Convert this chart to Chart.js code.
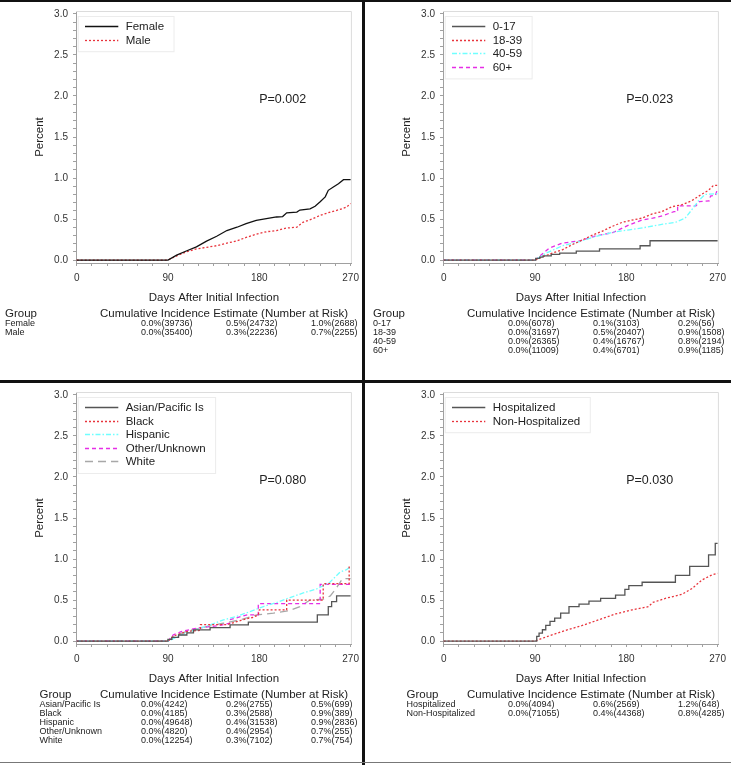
<!DOCTYPE html>
<html>
<head>
<meta charset="utf-8">
<script src="https://cdn.jsdelivr.net/npm/chart.js@4.4.1/dist/chart.umd.min.js"></script>
<style>
body { margin: 0; background: #fff; font-family: "Liberation Sans", Arial, sans-serif; color: #222; }
#page { position: relative; width: 731px; height: 765px; overflow: hidden; }
.panel { position: absolute; width: 365px; height: 380px; }
.panel canvas { position: absolute; left: 0; top: 0; }
.t { position: absolute; white-space: nowrap; }
.hd { font-size: 11.5px; line-height: 14px; height: 14px; }
.rw { font-size: 9px; line-height: 10px; height: 10px; }
.rule { position: absolute; }
</style>
</head>
<body>
<div id="page"></div>
<script>
var FONT = '"Liberation Sans", Arial, sans-serif';

// axis ticks
var xTicks = [0, 15, 30, 45, 60, 75, 90, 105, 120, 135, 150, 165, 180, 195, 210, 225, 240, 255, 270];
var xLabels = [0, 90, 180, 270];
var yTicks = [0, 0.1, 0.2, 0.3, 0.4, 0.5, 0.6, 0.7, 0.8, 0.9, 1.0, 1.1, 1.2, 1.3, 1.4, 1.5,
              1.6, 1.7, 1.8, 1.9, 2.0, 2.1, 2.2, 2.3, 2.4, 2.5, 2.6, 2.7, 2.8, 2.9, 3.0];
var yLabels = [0, 0.5, 1.0, 1.5, 2.0, 2.5, 3.0];

// curves, [day, percent]
var female = [[0,0],[90,0],[98.5,0.06],[108,0.11],[118,0.16],[128,0.23],[138,0.29],[148,0.36],[158,0.40],
  [167,0.445],[177,0.485],[187,0.505],[197,0.525],[203,0.53],[207,0.575],[217,0.585],[220,0.61],[230,0.625],
  [235,0.655],[240,0.71],[245,0.77],[248,0.85],[253,0.89],[258,0.93],[263,0.98],[270,0.98]];
var male = [[0,0],[90,0],[98.5,0.05],[108,0.10],[118,0.135],[128,0.155],[138,0.175],[148,0.205],[158,0.235],
  [167,0.275],[177,0.315],[187,0.345],[197,0.36],[203,0.38],[207,0.39],[217,0.40],[223,0.46],[233,0.505],
  [240,0.545],[250,0.585],[259,0.615],[266,0.645],[270,0.69]];

var age0017 = [[0,0],[90.7,0.02],[94.6,0.036],[97.9,0.052],[106,0.068],[114.3,0.085],[130.7,0.109],
  [153.6,0.137],[193.6,0.174],[203.4,0.235],[270,0.235]];
var age1839 = [[0,0],[90,0],[97,0.036],[107,0.085],[117,0.125],[127,0.19],[136,0.24],[146,0.30],[156,0.35],
  [166,0.41],[176,0.46],[185,0.485],[195,0.51],[205,0.56],[215,0.59],[225,0.65],[235,0.675],[244,0.72],
  [254,0.80],[261,0.85],[266,0.91],[270,0.91]];
var age4059 = [[0,0],[90,0],[101,0.085],[117,0.174],[134,0.226],[150,0.287],[166.7,0.34],[183,0.368],
  [199.5,0.40],[216,0.437],[229,0.462],[238,0.51],[244.4,0.61],[251,0.72],[257.5,0.80],[270,0.81]];
var age60 = [[0,0],[90,0],[104,0.146],[117,0.207],[134,0.234],[150,0.295],[166.7,0.335],[183,0.429],
  [196,0.49],[206,0.51],[216,0.542],[227,0.59],[230.6,0.59],[230.6,0.66],[248.6,0.66],[252,0.712],
  [261.7,0.72],[263,0.78],[268,0.79],[270,0.875]];

var asian = [[0,0],[89.9,0.02],[93.8,0.045],[100.4,0.074],[108.6,0.10],[115.1,0.135],[131.5,0.164],
  [151.2,0.197],[169.2,0.23],[237.2,0.32],[248,0.42],[251.3,0.48],[256.2,0.55],[270,0.55]];
var black = [[0,0],[90,0],[95,0.06],[105,0.10],[110,0.12],[122,0.13],[122,0.20],[148,0.20],[164,0.26],
  [174,0.29],[179,0.32],[180,0.38],[207,0.38],[207,0.50],[243,0.50],[243,0.70],[268.6,0.70],[268.6,0.93]];
var hispanic = [[0,0],[90,0],[92.2,0.01],[105.3,0.086],[118.4,0.143],[131.6,0.197],[144.7,0.258],
  [157.8,0.30],[170.9,0.36],[184,0.42],[197.2,0.47],[210.3,0.53],[223.4,0.586],[236.5,0.635],
  [249.6,0.717],[259.5,0.84],[266,0.87],[269.3,0.906],[270,0.91]];
var other = [[0,0],[90,0],[95,0.074],[103,0.115],[118,0.156],[141,0.19],[151,0.217],[151,0.26],[168,0.32],
  [179,0.32],[179,0.455],[240,0.455],[240,0.69],[270,0.69]];
var white = [[0,0],[90,0],[98,0.074],[111,0.127],[128,0.176],[144.5,0.217],[161,0.258],[177.5,0.32],
  [194,0.34],[210,0.373],[220,0.42],[230,0.50],[243,0.51],[250,0.55],[255,0.63],[262,0.76],[270,0.76]];

var hosp = [[0,0],[90.1,0],[91.7,0.057],[94,0.097],[97.3,0.138],[100.6,0.19],[104.8,0.24],[109.4,0.28],
  [115.3,0.34],[123.5,0.42],[133.4,0.45],[143.2,0.486],[154.7,0.52],[169.4,0.56],[178.6,0.63],
  [182.5,0.676],[195.6,0.717],[228.4,0.80],[242.5,0.91],[261.1,1.05],[267.7,1.19],[270,1.19]];
var nonhosp = [[0,0],[90,0],[100.6,0.049],[120,0.13],[136.6,0.19],[153,0.26],[169.4,0.33],[185.8,0.38],
  [202,0.42],[206,0.47],[218.5,0.52],[235,0.57],[244.8,0.64],[254.6,0.745],[264.4,0.806],[270,0.826]];

// number at risk tables
var sexRows = [['Female','0.0%(39736)','0.5%(24732)','1.0%(2688)'],
               ['Male','0.0%(35400)','0.3%(22236)','0.7%(2255)']];
var ageRows = [['0-17','0.0%(6078)','0.1%(3103)','0.2%(56)'],
               ['18-39','0.0%(31697)','0.5%(20407)','0.9%(1508)'],
               ['40-59','0.0%(26365)','0.4%(16767)','0.8%(2194)'],
               ['60+','0.0%(11009)','0.4%(6701)','0.9%(1185)']];
var raceRows = [['Asian/Pacific Is','0.0%(4242)','0.2%(2755)','0.5%(699)'],
                ['Black','0.0%(4185)','0.3%(2588)','0.9%(389)'],
                ['Hispanic','0.0%(49648)','0.4%(31538)','0.9%(2836)'],
                ['Other/Unknown','0.0%(4820)','0.4%(2954)','0.7%(255)'],
                ['White','0.0%(12254)','0.3%(7102)','0.7%(754)']];
var hospRows = [['Hospitalized','0.0%(4094)','0.6%(2569)','1.2%(648)'],
                ['Non-Hospitalized','0.0%(71055)','0.4%(44368)','0.8%(4285)']];

var pValues = ['P=0.002', 'P=0.023', 'P=0.080', 'P=0.030'];
var pPos = [203, 1.96];

var RED = '#e8343c', CYAN = '#70ffff', MAG = '#e62ee6', DGRAY = '#555555', LGRAY = '#a8a8a8';
var DOT = [2, 2], DASHDOT = [5, 2, 1.5, 2], DASH = [4, 3], LONG = [8, 5];

var panels = [
  { left: 0, top: 0, p: pValues[0], groupX: 5, rows: sexRows, sets: [
    { label: 'Female', pts: female, color: '#111', dash: [] },
    { label: 'Male', pts: male, color: RED, dash: DOT }
  ]},
  { left: 367, top: 0, p: pValues[1], groupX: 6, rows: ageRows, sets: [
    { label: '0-17', pts: age0017, color: DGRAY, dash: [], stepped: true },
    { label: '18-39', pts: age1839, color: RED, dash: DOT },
    { label: '40-59', pts: age4059, color: CYAN, dash: DASHDOT },
    { label: '60+', pts: age60, color: MAG, dash: DASH }
  ]},
  { left: 0, top: 381, p: pValues[2], groupX: 39.5, rows: raceRows, sets: [
    { label: 'Asian/Pacific Is', pts: asian, color: DGRAY, dash: [], stepped: true },
    { label: 'Black', pts: black, color: RED, dash: DOT },
    { label: 'Hispanic', pts: hispanic, color: CYAN, dash: DASHDOT },
    { label: 'Other/Unknown', pts: other, color: MAG, dash: DASH },
    { label: 'White', pts: white, color: LGRAY, dash: LONG }
  ]},
  { left: 367, top: 381, p: pValues[3], groupX: 39.5, rows: hospRows, sets: [
    { label: 'Hospitalized', pts: hosp, color: DGRAY, dash: [], stepped: true },
    { label: 'Non-Hospitalized', pts: nonhosp, color: RED, dash: DOT }
  ]}
];

// light frame on top and right of the plot area
var framePlugin = {
  id: 'frame',
  beforeDatasetsDraw: function(chart) {
    var a = chart.chartArea, ctx = chart.ctx;
    ctx.save();
    ctx.strokeStyle = '#dcdcdc';
    ctx.lineWidth = 1;
    ctx.beginPath();
    ctx.moveTo(a.left, a.top + 0.5);
    ctx.lineTo(a.right - 0.5, a.top + 0.5);
    ctx.lineTo(a.right - 0.5, a.bottom);
    ctx.stroke();
    ctx.restore();
  }
};

var legendPlugin = {
  id: 'boxLegend',
  afterDatasetsDraw: function(chart) {
    var ctx = chart.ctx, a = chart.chartArea, sets = chart.data.datasets;
    ctx.save();
    ctx.font = '11.5px ' + FONT;
    var w = 0;
    sets.forEach(function(d) { w = Math.max(w, ctx.measureText(d.label).width); });
    var x0 = a.left + 1.7, y0 = a.top + 5;
    var bw = 48 + w + 9.5, bh = sets.length * 13.6 + 8;
    ctx.fillStyle = '#fff';
    ctx.fillRect(x0, y0, bw, bh);
    ctx.strokeStyle = '#ececec';
    ctx.lineWidth = 1;
    ctx.strokeRect(x0 + 0.5, y0 + 0.5, bw, bh);
    sets.forEach(function(d, i) {
      var y = Math.round(y0 + 10 + i * 13.6) + 0.5;
      ctx.strokeStyle = d.borderColor;
      ctx.lineWidth = d.borderWidth;
      ctx.setLineDash(d.borderDash || []);
      ctx.beginPath();
      ctx.moveTo(x0 + 7.3, y);
      ctx.lineTo(x0 + 40.6, y);
      ctx.stroke();
      ctx.setLineDash([]);
      ctx.fillStyle = '#222';
      ctx.textBaseline = 'middle';
      ctx.fillText(d.label, x0 + 48, y);
    });
    ctx.restore();
  }
};

var pPlugin = {
  id: 'pText',
  afterDatasetsDraw: function(chart, args, opts) {
    var ctx = chart.ctx;
    var x = chart.scales.x.getPixelForValue(pPos[0]);
    var y = chart.scales.y.getPixelForValue(pPos[1]);
    ctx.save();
    ctx.font = '12.5px ' + FONT;
    ctx.fillStyle = '#222';
    ctx.textAlign = 'center';
    ctx.textBaseline = 'middle';
    ctx.fillText(opts.text, x, y);
    ctx.restore();
  }
};

function inList(list, v) {
  for (var i = 0; i < list.length; i++) {
    if (Math.abs(list[i] - v) < 1e-6) return true;
  }
  return false;
}

var page = document.getElementById('page');

panels.forEach(function(pnl) {
  var div = document.createElement('div');
  div.className = 'panel';
  div.style.left = pnl.left + 'px';
  div.style.top = pnl.top + 'px';
  page.appendChild(div);

  var cv = document.createElement('canvas');
  cv.width = 365; cv.height = 310;
  cv.style.width = '365px'; cv.style.height = '310px';
  div.appendChild(cv);

  new Chart(cv, {
    type: 'line',
    data: {
      datasets: pnl.sets.map(function(s) {
        return {
          label: s.label,
          data: s.pts.map(function(p) { return { x: p[0], y: p[1] }; }),
          borderColor: s.color,
          borderWidth: 1.3,
          borderDash: s.dash,
          stepped: s.stepped || false,
          pointRadius: 0,
          fill: false,
          tension: 0
        };
      })
    },
    options: {
      responsive: false,
      animation: false,
      devicePixelRatio: 1,
      events: [],
      layout: { padding: { left: 0, right: 13, top: 10, bottom: 0 } },
      plugins: {
        legend: { display: false },
        tooltip: { enabled: false },
        pText: { text: pnl.p }
      },
      scales: {
        x: {
          type: 'linear', min: -0.7, max: 271.3,
          afterFit: function(s) { s.height = 47; },
          afterBuildTicks: function(s) { s.ticks = xTicks.map(function(v) { return { value: v }; }); },
          ticks: {
            autoSkip: false, maxRotation: 0, padding: 6, color: '#333',
            font: { size: 10, family: FONT },
            callback: function(v) { return inList(xLabels, v) ? String(v) : ''; }
          },
          grid: { drawOnChartArea: false, tickLength: 3, color: '#a0a0a0' },
          border: { color: '#a0a0a0' },
          title: { display: true, text: 'Days After Initial Infection', color: '#222',
                   font: { size: 11.5, family: FONT }, padding: { top: 0, bottom: 5 } }
        },
        y: {
          type: 'linear', min: -0.036, max: 3.036,
          afterFit: function(s) { s.width = 76; },
          afterBuildTicks: function(s) { s.ticks = yTicks.map(function(v) { return { value: v }; }); },
          ticks: {
            autoSkip: false, padding: 5, color: '#333',
            font: { size: 10, family: FONT },
            callback: function(v) { return inList(yLabels, v) ? v.toFixed(1) : ''; }
          },
          grid: { drawOnChartArea: false, tickLength: 3, color: '#a0a0a0' },
          border: { color: '#a0a0a0' },
          title: { display: true, text: 'Percent', color: '#222',
                   font: { size: 11.5, family: FONT }, padding: { top: 33, bottom: 0 } }
        }
      }
    },
    plugins: [framePlugin, legendPlugin, pPlugin]
  });

  // table below the plot
  function addText(cls, txt, x, y) {
    var el = document.createElement('div');
    el.className = 't ' + cls;
    el.textContent = txt;
    el.style.left = x + 'px';
    el.style.top = y + 'px';
    div.appendChild(el);
  }
  addText('hd', 'Group', pnl.groupX, 306);
  addText('hd', 'Cumulative Incidence Estimate (Number at Risk)', 100, 306);
  var cols = [141, 226, 311];
  pnl.rows.forEach(function(r, i) {
    var y = 317.5 + i * 9.1;
    addText('rw', r[0], pnl.groupX, y);
    for (var c = 0; c < 3; c++) addText('rw', r[c + 1], cols[c], y);
  });
});

// panel separators
function rule(x, y, w, h, color) {
  var el = document.createElement('div');
  el.className = 'rule';
  el.style.left = x + 'px'; el.style.top = y + 'px';
  el.style.width = w + 'px'; el.style.height = h + 'px';
  el.style.background = color;
  page.appendChild(el);
}
rule(0, 0, 731, 2, '#111');
rule(362, 0, 3, 765, '#111');
rule(0, 380, 731, 3, '#111');
rule(0, 762, 731, 1, '#777');
</script>
</body>
</html>
